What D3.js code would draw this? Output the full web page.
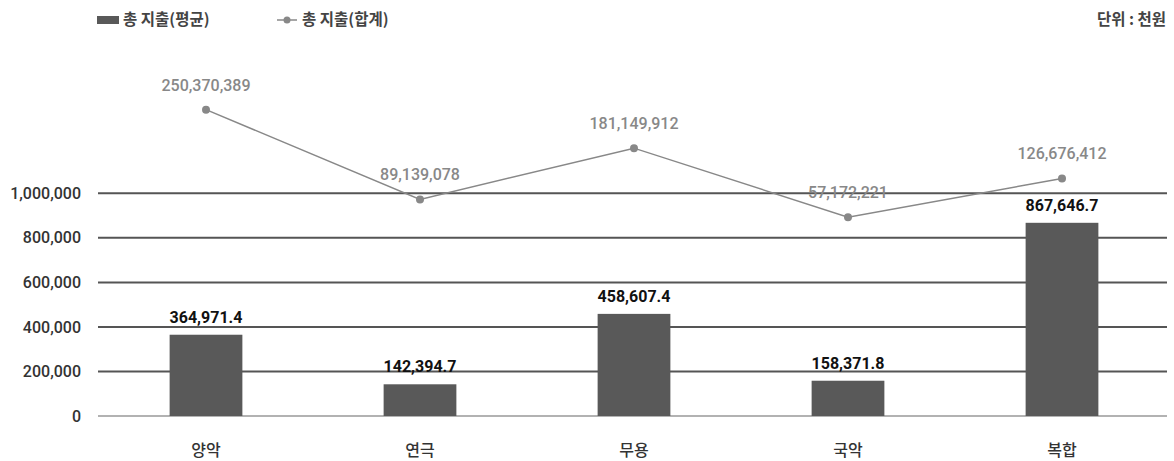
<!DOCTYPE html>
<html>
<head>
<meta charset="utf-8">
<script src="https://cdn.jsdelivr.net/npm/d3@7"></script>
<style>
  body { margin: 0; background: #fff; }
  svg { display: block; }
  .num { font-family: "Roboto", "Liberation Sans", sans-serif; }
  .kr { font-family: "Noto Sans CJK KR", sans-serif; }
</style>
</head>
<body>
<div id="chart"></div>
<script>
// Data
const categories = ["양악", "연극", "무용", "국악", "복합"];
const avgValues = [364971.4, 142394.7, 458607.4, 158371.8, 867646.7];
const sumValues = [250370389, 89139078, 181149912, 57172221, 126676412];
const yTicks = [0, 200000, 400000, 600000, 800000, 1000000];

const width = 1174, height = 461;
const plotLeft = 99, plotRight = 1169, plotTop = 82, plotBottom = 416;

const svg = d3.select("#chart").append("svg")
    .attr("width", width)
    .attr("height", height);

// Scales
const x = d3.scaleBand()
    .domain(categories)
    .range([plotLeft, plotRight])
    .paddingInner(0.66)
    .paddingOuter(0.33);

const y = d3.scaleLinear().domain([0, 1500000]).range([plotBottom, plotTop]);
// hidden secondary axis for the sum line
const y2 = d3.scaleLinear().domain([-300000000, 300000000]).range([plotBottom, plotTop]);

const fmt = d3.format(",");
const fmt1 = d3.format(",.1f");

// Gridlines + y labels
const grid = svg.append("g");
grid.selectAll("line")
    .data(yTicks)
    .enter()
    .append("line")
    .attr("x1", plotLeft - 1)
    .attr("x2", plotRight - 2)
    .attr("y1", d => y(d))
    .attr("y2", d => y(d))
    .attr("stroke", d => d === 0 ? "#999" : "#555")
    .attr("stroke-width", d => d === 0 ? 1.5 : 2);

grid.selectAll("text")
    .data(yTicks)
    .enter()
    .append("text")
    .attr("class", "num")
    .attr("x", 81)
    .attr("y", d => y(d))
    .attr("dy", "0.35em")
    .attr("text-anchor", "end")
    .attr("font-size", 16)
    .attr("font-weight", 500)
    .attr("fill", "#333")
    .text(d => fmt(d));

// Bars
svg.append("g")
    .selectAll("rect")
    .data(avgValues)
    .enter()
    .append("rect")
    .attr("x", (d, i) => x(categories[i]))
    .attr("y", d => y(d))
    .attr("width", x.bandwidth())
    .attr("height", d => y(0) - y(d))
    .attr("fill", "#595959");

// Bar labels
svg.append("g")
    .selectAll("text")
    .data(avgValues)
    .enter()
    .append("text")
    .attr("class", "num")
    .attr("x", (d, i) => x(categories[i]) + x.bandwidth() / 2)
    .attr("y", d => y(d) - 12)
    .attr("text-anchor", "middle")
    .attr("font-size", 16)
    .attr("font-weight", "bold")
    .attr("fill", "#111")
    .text(d => fmt1(d));

// Line
const cx = i => x(categories[i]) + x.bandwidth() / 2;
const line = d3.line()
    .x((d, i) => cx(i))
    .y(d => y2(d));

svg.append("path")
    .datum(sumValues)
    .attr("d", line)
    .attr("fill", "none")
    .attr("stroke", "#888")
    .attr("stroke-width", 1.5);

svg.append("g")
    .selectAll("circle")
    .data(sumValues)
    .enter()
    .append("circle")
    .attr("cx", (d, i) => cx(i))
    .attr("cy", d => y2(d))
    .attr("r", 4)
    .attr("fill", "#888");

svg.append("g")
    .selectAll("text")
    .data(sumValues)
    .enter()
    .append("text")
    .attr("class", "num")
    .attr("x", (d, i) => cx(i))
    .attr("y", d => y2(d) - 19)
    .attr("text-anchor", "middle")
    .attr("font-size", 16)
    .attr("font-weight", 500)
    .attr("fill", "#888")
    .text(d => fmt(d));

// Category labels
svg.append("g")
    .selectAll("text")
    .data(categories)
    .enter()
    .append("text")
    .attr("class", "kr")
    .attr("x", d => x(d) + x.bandwidth() / 2)
    .attr("y", 450)
    .attr("dy", "0.35em")
    .attr("text-anchor", "middle")
    .attr("font-size", 16)
    .attr("font-weight", 500)
    .attr("fill", "#333")
    .text(d => d);

// Legend
const legend = svg.append("g");
legend.append("rect")
    .attr("x", 97).attr("y", 16)
    .attr("width", 22).attr("height", 8)
    .attr("fill", "#595959");
legend.append("text")
    .attr("class", "kr")
    .attr("x", 123).attr("y", 20)
    .attr("dy", "0.35em")
    .attr("font-size", 15.5)
    .attr("font-weight", "bold")
    .attr("fill", "#444")
    .text("총 지출(평균)");
legend.append("line")
    .attr("x1", 277).attr("x2", 297)
    .attr("y1", 20).attr("y2", 20)
    .attr("stroke", "#888").attr("stroke-width", 1.5);
legend.append("circle")
    .attr("cx", 287).attr("cy", 20).attr("r", 3.5)
    .attr("fill", "#888");
legend.append("text")
    .attr("class", "kr")
    .attr("x", 302).attr("y", 20)
    .attr("dy", "0.35em")
    .attr("font-size", 15.5)
    .attr("font-weight", "bold")
    .attr("fill", "#444")
    .text("총 지출(합계)");

svg.append("text")
    .attr("class", "kr")
    .attr("x", 1166).attr("y", 20)
    .attr("dy", "0.35em")
    .attr("text-anchor", "end")
    .attr("font-size", 15.5)
    .attr("font-weight", "bold")
    .attr("fill", "#444")
    .text("단위 : 천원");
</script>
</body>
</html>
